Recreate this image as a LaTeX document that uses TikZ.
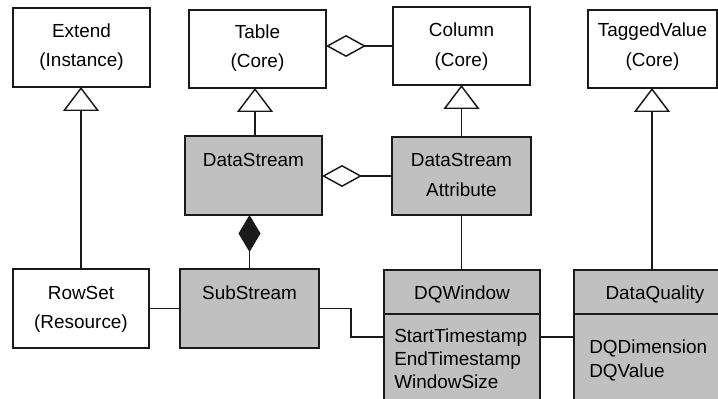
\documentclass[tikz,border=0pt]{standalone}
\usepackage{fontspec}
\setmainfont{Liberation Sans}
\usetikzlibrary{arrows.meta,fit,calc}
\definecolor{boxgray}{HTML}{C0C0C0}
\definecolor{ink}{HTML}{1A1A1A}
\begin{document}
\begin{tikzpicture}[x=0.75pt,y=-0.75pt,
  cls/.style={draw=ink, line width=1.1pt, inner sep=0pt, outer sep=0pt},
  plain/.style={cls, fill=white},
  shaded/.style={cls, fill=boxgray},
  lbl/.style={inner sep=0pt, anchor=base, font=\fontsize{14.2}{17}\selectfont},
  attr/.style={lbl, anchor=base west},
  link/.style={draw=ink, line width=1.1pt},
  inherit/.style={link, -{Triangle[open, length=18pt, width=27pt, line join=miter]}},
  aggr/.style={link, -{Diamond[open, length=30pt, width=16.5pt, line join=miter]}},
  comp/.style={link, -{Diamond[length=27.75pt, width=16.5pt]}}
]
\useasboundingbox (0,0) rectangle (718,399);
\clip (0,0) rectangle (718,399);
\fill[white] (0,0) rectangle (718,399);

% top row: core classes
\node[plain, fit={(13,8)(150,87)}] (extend) {};
\node[lbl] (extend-a) at (extend.north |- 0,38) {Extend};
\node[lbl] (extend-b) at (extend.north |- 0,67) {(Instance)};

\node[plain, fit={(189,10)(326,88)}] (table) {};
\node[lbl] (table-a) at (table.north |- 0,39) {Table};
\node[lbl] (table-b) at (table.north |- 0,68) {(Core)};

\node[plain, fit={(393,7)(530,85)}] (col) {};
\node[lbl] (col-a) at (col.north |- 0,37) {Column};
\node[lbl] (col-b) at (col.north |- 0,67) {(Core)};

\node[plain, fit={(588,10)(717,88)}] (tv) {};
\node[lbl] (tv-a) at (tv.north |- 0,37) {TaggedValue};
\node[lbl] (tv-b) at (tv.north |- 0,67) {(Core)};

% middle row
\node[shaded, fit={(185,136)(322,215)}] (ds) {};
\node[lbl] (ds-a) at (ds.north |- 0,167) {DataStream};

\node[shaded, fit={(392,137)(531,215)}] (dsa) {};
\node[lbl] (dsa-a) at (dsa.north |- 0,167) {DataStream};
\node[lbl] (dsa-b) at (dsa.north |- 0,197) {Attribute};

% bottom row
\node[plain, fit={(13,269)(149,348)}] (rowset) {};
\node[lbl] (rowset-a) at (rowset.north |- 0,300) {RowSet};
\node[lbl] (rowset-b) at (rowset.north |- 0,328) {(Resource)};

\node[shaded, fit={(180,269)(319,348)}] (ss) {};
\node[lbl] (ss-a) at (ss.north |- 0,299) {SubStream};

\node[shaded, fit={(384,270)(540,314)}] (dqw) {};
\node[lbl] (dqw-a) at (dqw.north |- 0,300) {DQWindow};
\node[shaded, fit={(384,314)(540,410)}] (dqwb) {};
\node[attr] (dqw-1) at (394,342) {StartTimestamp};
\node[attr] (dqw-2) at (394,365) {EndTimestamp};
\node[attr] (dqw-3) at (394,388) {WindowSize};

\node[shaded, fit={(574,270)(736,314)}] (dqq) {};
\node[lbl] (dqq-a) at (655,300) {DataQuality};
\node[shaded, fit={(574,314)(736,410)}] (dqqb) {};
\node[attr] (dqq-1) at (589,353) {DQDimension};
\node[attr] (dqq-2) at (589,377) {DQValue};

% generalisations
\coordinate (tvfoot) at (652,88);
\draw[inherit] (rowset.north) -- (rowset.north |- extend.south);
\draw[inherit] ($(ds.north)+(1.5,0)$) -- ($(ds.north |- table.south)+(1.5,0)$);
\draw[inherit] (dsa.north) -- (dsa.north |- col.south);
\draw[inherit] (dqq.north -| tvfoot) -- (tvfoot);

% aggregations and composition
\draw[aggr] (col.west) -- (col.west -| table.east);
\draw[aggr] (dsa.west) -- (dsa.west -| ds.east);
\draw[comp] (ss.north) -- (ss.north |- ds.south);

% plain associations
\coordinate (row) at (0,337);
\draw[link] (rowset.east) -- (ss.west);
\draw[link] (dsa.south) -- (dsa.south |- dqw.north);
\draw[link] (ss.east) -- ++(32,0) |- (dqwb.west |- row);
\draw[link] (dqwb.east |- row) -- (dqqb.west |- row);
\end{tikzpicture}
\end{document}
